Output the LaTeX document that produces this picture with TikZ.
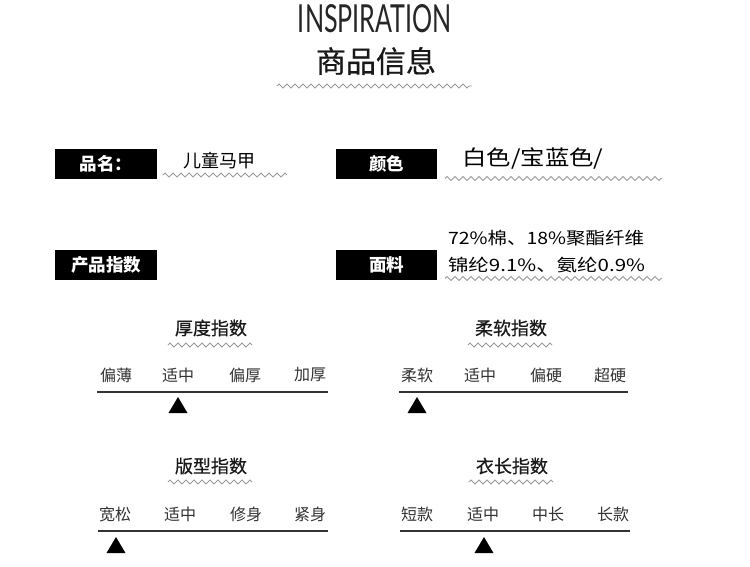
\documentclass[tikz,border=0pt]{standalone}
\usepackage{fontspec}
\usepackage{graphicx}
\usetikzlibrary{decorations.pathmorphing}
\newfontfamily\cjk{Noto Sans CJK SC}
\newfontfamily\cjkm[FakeBold=0.6]{Noto Sans CJK SC}
\newfontfamily\thinfont{Lato}
\definecolor{zz}{HTML}{9A9A9A}
\definecolor{tx}{HTML}{333333}
\tikzset{
  zig/.style={draw=zz, line width=0.9pt, decorate, decoration={zigzag, segment length=8pt, amplitude=2pt}},
  blackbox/.style={fill=black, inner sep=0, minimum height=30pt, text=white, font=\cjk\bfseries\fontsize{17.5}{17.5}\selectfont},
  sectitle/.style={font=\cjkm\fontsize{18}{18}\selectfont, text=black!90, inner sep=0},
  lab/.style={font=\cjk\fontsize{16}{16}\selectfont, text=tx, inner sep=0},
  value/.style={font=\cjk, text=black, inner sep=0},
  scaleline/.style={draw=tx, line width=1.4pt},
  marker/.style={fill=black},
}
\begin{document}
\begin{tikzpicture}[x=1pt,y=-1pt]
\useasboundingbox[fill=white] (0,0) rectangle (750,566);

% header
\node[inner sep=0, text=black!85] (insp) at (375,19) {\resizebox{154pt}{28pt}{\thinfont INSPIRATION}};
\node[value, font=\cjkm\fontsize{30}{30}\selectfont, text=black!90] (head) at (376,61) {商品信息};
\coordinate (hz1) at (277,86); \coordinate (hz2) at (472,86);
\draw[zig] (hz1) -- (hz2);

% info rows
\node[blackbox, minimum width=102pt] (bname) at (106,164) {品名：};
\node[blackbox, minimum width=102pt] (bidx) at (106,265) {产品指数};
\node[blackbox, minimum width=101pt] (bcol) at (386.5,164) {颜色};
\node[blackbox, minimum width=101pt] (bfab) at (386.5,265) {面料};

\node[value, font=\cjk\fontsize{18}{18}\selectfont] (vname) at (219,161) {儿童马甲};
\coordinate (nz1) at (163,175); \coordinate (nz2) at (287,175);
\draw[zig] (nz1) -- (nz2);

\node[value] (vcol) at (533,158) {\resizebox{141pt}{\height}{\cjk\fontsize{21}{21}\selectfont 白色/宝蓝色/}};
\coordinate (cz1) at (445,178.5); \coordinate (cz2) at (662,178.5);
\draw[zig] (cz1) -- (cz2);

\node[value] (vfab1) at (546,238) {\resizebox{196pt}{\height}{\cjk\fontsize{17}{17}\selectfont 72\%棉、18\%聚酯纤维}};
\node[value] (vfab2) at (546.5,265) {\resizebox{197pt}{\height}{\cjk\fontsize{17}{17}\selectfont 锦纶9.1\%、氨纶0.9\%}};
\coordinate (fz1) at (445,278.5); \coordinate (fz2) at (662,278.5);
\draw[zig] (fz1) -- (fz2);

% ---- thickness
\node[sectitle] (t1) at (211,328) {厚度指数};
\coordinate (t1z1) at (168,345); \coordinate (t1z2) at (252,345);
\draw[zig] (t1z1) -- (t1z2);
\node[lab] (t1a) at (116,375) {偏薄};
\node[lab] (t1b) at (178,375) {适中};
\node[lab] (t1c) at (245,375) {偏厚};
\node[lab] (t1d) at (310,375) {加厚};
\coordinate (l1a) at (97,392); \coordinate (l1b) at (328,392);
\draw[scaleline] (l1a) -- (l1b);
\coordinate (m1) at (178,397);
\fill[marker] (m1) -- ++(9.5,16) -- ++(-19,0) -- cycle;

% ---- softness
\node[sectitle] (t2) at (511,328) {柔软指数};
\coordinate (t2z1) at (468,345); \coordinate (t2z2) at (552,345);
\draw[zig] (t2z1) -- (t2z2);
\node[lab] (t2a) at (417,375) {柔软};
\node[lab] (t2b) at (480,375) {适中};
\node[lab] (t2c) at (546,375) {偏硬};
\node[lab] (t2d) at (610,375) {超硬};
\coordinate (l2a) at (399,392); \coordinate (l2b) at (628,392);
\draw[scaleline] (l2a) -- (l2b);
\coordinate (m2) at (417,397);
\fill[marker] (m2) -- ++(9.5,16) -- ++(-19,0) -- cycle;

% ---- fit
\node[sectitle] (t3) at (211,466) {版型指数};
\coordinate (t3z1) at (168,482); \coordinate (t3z2) at (252,482);
\draw[zig] (t3z1) -- (t3z2);
\node[lab] (t3a) at (115,514) {宽松};
\node[lab] (t3b) at (180,514) {适中};
\node[lab] (t3c) at (246,514) {修身};
\node[lab] (t3d) at (310,514) {紧身};
\coordinate (l3a) at (98,531); \coordinate (l3b) at (328,531);
\draw[scaleline] (l3a) -- (l3b);
\coordinate (m3) at (116,537);
\fill[marker] (m3) -- ++(9.5,16) -- ++(-19,0) -- cycle;

% ---- length
\node[sectitle] (t4) at (512,466) {衣长指数};
\coordinate (t4z1) at (469,482); \coordinate (t4z2) at (553,482);
\draw[zig] (t4z1) -- (t4z2);
\node[lab] (t4a) at (417,514) {短款};
\node[lab] (t4b) at (483,514) {适中};
\node[lab] (t4c) at (548,514) {中长};
\node[lab] (t4d) at (613,514) {长款};
\coordinate (l4a) at (400,531); \coordinate (l4b) at (630,531);
\draw[scaleline] (l4a) -- (l4b);
\coordinate (m4) at (484,537);
\fill[marker] (m4) -- ++(9.5,16) -- ++(-19,0) -- cycle;
\end{tikzpicture}
\end{document}
